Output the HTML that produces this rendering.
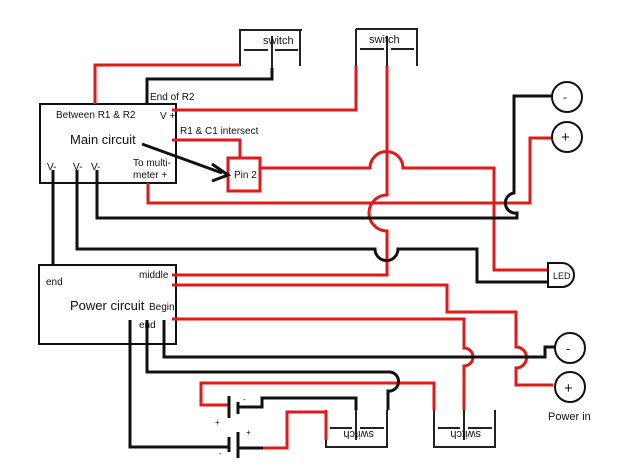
<!DOCTYPE html>
<html><head><style>
html,body{margin:0;padding:0;background:#fff;}
svg{display:block;}
text{font-family:"Liberation Sans",sans-serif;fill:#111;}
</style></head><body>
<svg width="620" height="465" viewBox="0 0 620 465" xmlns="http://www.w3.org/2000/svg">
<g fill="none" stroke-width="3" stroke-linejoin="miter">
<!-- boxes -->
<rect x="40" y="104" width="136" height="79" stroke="#111" stroke-width="2"/>
<rect x="39" y="265" width="137" height="79" stroke="#111" stroke-width="2"/>
<!-- switch 1 -->
<g stroke="#222" stroke-width="2">
<path d="M240 30H302M240 29V66M300 29V66M272 36V70M244 50H268M275 50H298"/>
<path d="M356 29H418M356 29V66M417 29V66M387 36V66M360 49H384M391 49H414"/>
<path d="M326 447H388M326 410V448M387 410V448M356 410V440M330 428H352M360 428H384"/>
<path d="M434 447H496M434 410V448M495 410V448M464 410V440M438 428H460M468 428H492"/>
</g>
<!-- red wires -->
<g stroke="#e01a1a">
<path d="M95 104V65H240"/>
<path d="M172 110H356V66"/>
<path d="M387 66V195 A18 18 0 0 0 387 231 V275H172"/>
<path d="M172 140H240V158"/>
<path d="M260 168H370 A16 16 0 0 1 403 168 H494V270H550"/>
<path d="M148 183V203H530V138H552"/>
<path d="M172 285H447V312H516V347 A10 10 0 0 1 516 368 V385H553"/>
<path d="M172 319H464V348 A9 9 0 0 1 464 366 V410"/>
<path d="M434 410V383H201V405H228"/>
<path d="M263 448H287V412H326V440"/>
</g>
<rect x="228" y="158" width="32" height="33" stroke="#e01a1a"/>
<!-- black wires -->
<g stroke="#111">
<path d="M147 104V79H272V68"/>
<path d="M97 170V218H517V213 A10 10 0 0 1 514 193 V96H552"/>
<path d="M77 170V249H375 A11 11 0 0 0 398 249 H477V282H548"/>
<path d="M53 170V265"/>
<path d="M164 320V357H545V347H555"/>
<path d="M147 320V372H390 A9 9 0 0 1 388 391 V410"/>
<path d="M130 320V447H229"/>
<path d="M238 407H262V398H356V410"/>
<path d="M238 448H263"/>
<path d="M229 396V418M238 402V414M229 437V452M238 432V458"/>
<path d="M142 144L222 173"/>
<path d="M212 164L228 175L212 181" stroke-width="3"/>
</g>
<!-- circles -->
<g stroke="#111" stroke-width="2" fill="#fff">
<circle cx="567" cy="97" r="15"/>
<circle cx="567" cy="137" r="15"/>
<circle cx="570" cy="348" r="15"/>
<circle cx="570" cy="387" r="15"/>
<path d="M548 263H562A12 12 0 0 1 562 287H548Z"/>
</g>
</g>
<g font-size="10">
<text x="263" y="44" font-size="11">switch</text>
<text x="369" y="43" font-size="11">switch</text>
<text x="150" y="100">End of R2</text>
<text x="56" y="118">Between R1 &amp; R2</text>
<text x="160" y="119">V +</text>
<text x="180" y="134">R1 &amp; C1 intersect</text>
<text x="70" y="144" font-size="13">Main circuit</text>
<text x="133" y="166">To multi-</text>
<text x="133" y="178">meter +</text>
<text x="47" y="170">V-</text>
<text x="73" y="170">V-</text>
<text x="91" y="170">V-</text>
<text x="234" y="178">Pin 2</text>
<text x="46" y="285">end</text>
<text x="139" y="278">middle</text>
<text x="70" y="310" font-size="13">Power circuit</text>
<text x="149" y="310">Begin</text>
<text x="139" y="328">end</text>
<text x="553" y="279" font-size="9">LED</text>
<text x="548" y="420" font-size="11">Power in</text>
<text x="563" y="101" font-size="12">-</text>
<text x="561" y="142" font-size="15">+</text>
<text x="566" y="353" font-size="13">-</text>
<text x="564" y="393" font-size="15">+</text>
<text x="243" y="402" font-size="8">-</text>
<text x="215" y="425" font-size="8">+</text>
<text x="246" y="435" font-size="8">+</text>
<text x="219" y="456" font-size="8">-</text>
<text transform="translate(357,431) rotate(180)" x="-17" y="0" font-size="11">switch</text>
<text transform="translate(464,431) rotate(180)" x="-17" y="0" font-size="11">switch</text>
</g>
</svg>
</body></html>
